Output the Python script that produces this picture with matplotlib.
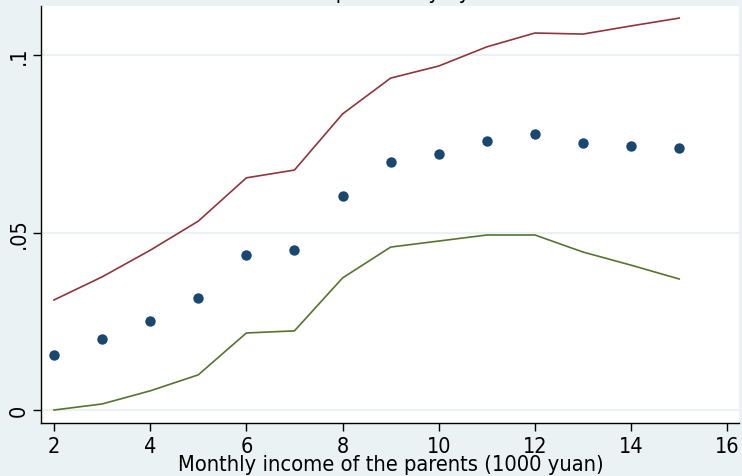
import matplotlib.pyplot as plt
import numpy as np

# parental income (1000 yuan) and estimated probability with 95% band
income = [2, 3, 4, 5, 6, 7, 8, 9, 10, 11, 12, 13, 14, 15]
estimate = [0.0155, 0.0200, 0.0250, 0.0315, 0.0437, 0.0450, 0.0603, 0.0699,
            0.0721, 0.0758, 0.0777, 0.0752, 0.0744, 0.0738]
upper = [0.0310, 0.0375, 0.0450, 0.0532, 0.0654, 0.0676, 0.0834, 0.0935,
         0.0969, 0.1023, 0.1062, 0.1059, 0.1082, 0.1104]
lower = [0.0000, 0.0017, 0.0054, 0.0099, 0.0217, 0.0223, 0.0372, 0.0459,
         0.0476, 0.0493, 0.0493, 0.0445, 0.0408, 0.0369]

xticks = [2, 4, 6, 8, 10, 12, 14, 16]
yticks = [0, 0.05, 0.1]
ylabels = ['0', '.05', '.1']

bg = '#eaf2f3'
plt.rcParams['font.family'] = 'DejaVu Sans'
plt.rcParams['font.stretch'] = 'condensed'

fig = plt.figure(figsize=(7.42, 4.77), dpi=100, facecolor=bg)
ax = fig.add_axes([0.0559, 0.1111, 0.9405, 0.8749])
ax.set_facecolor('white')

ax.plot(income, upper, color='#90353b', lw=1.2, zorder=3)
ax.plot(income, lower, color='#55752f', lw=1.2, zorder=3)
ax.plot(income, estimate, 'o', color='#1a476f', ms=7.5, mew=0, zorder=4)

ax.set_xlim(1.74, 16.25)
ax.set_ylim(-0.00366, 0.1139)
ax.set_xticks(xticks)
ax.set_yticks(yticks)
ax.set_yticklabels(ylabels, rotation=90, va='center')
ax.grid(axis='y', color=bg, lw=1.5, zorder=1)
ax.set_axisbelow(True)

for side in ['top', 'right']:
    ax.spines[side].set_visible(False)
for side in ['left', 'bottom']:
    ax.spines[side].set_linewidth(1.0)
ax.tick_params(axis='both', labelsize=15.5, length=6, width=1.0, pad=3)

ax.set_xlabel('Monthly income of the parents (1000 yuan)', fontsize=15.7, labelpad=-1)

fig.text(0.53, 1.003, 'Predicted probability by income', ha='center', va='baseline',
         fontsize=15.7)

fig.savefig('out.png', dpi=100, facecolor=bg)
